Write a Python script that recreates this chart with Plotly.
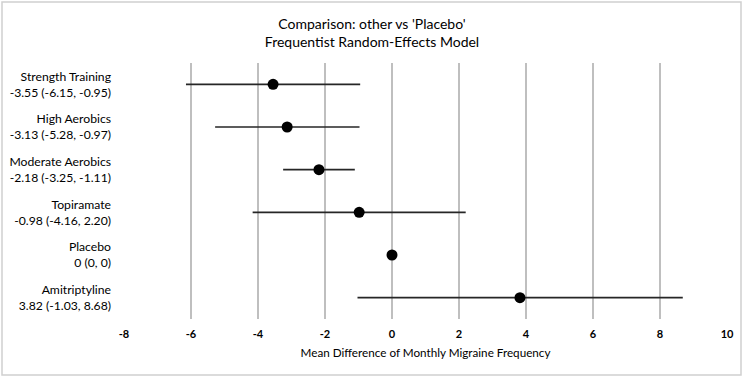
import plotly.graph_objects as go

treatments = ["Strength Training", "High Aerobics", "Moderate Aerobics", "Topiramate", "Placebo", "Amitriptyline"]
estimates = [-3.55, -3.13, -2.18, -0.98, 0.0, 3.82]
lower = [-6.15, -5.28, -3.25, -4.16, 0.0, -1.03]
upper = [-0.95, -0.97, -1.11, 2.20, 0.0, 8.68]
est_text = ["-3.55", "-3.13", "-2.18", "-0.98", "0", "3.82"]
low_text = ["-6.15", "-5.28", "-3.25", "-4.16", "0", "-1.03"]
up_text = ["-0.95", "-0.97", "-1.11", "2.20", "0", "8.68"]
x_ticks = [-8, -6, -4, -2, 0, 2, 4, 6, 8, 10]

labels = [f"{t}<br>{e} ({l}, {u})" for t, e, l, u in zip(treatments, est_text, low_text, up_text)]

W, H = 744, 377
L, R, T, B = 124, 17, 63, 58
pw = W - L - R
ph = H - T - B

fig = go.Figure()
fig.add_trace(go.Scatter(
    x=estimates, y=labels, mode="markers",
    marker=dict(color="black", size=11),
    error_x=dict(type="data", symmetric=False,
                 array=[u - e for u, e in zip(upper, estimates)],
                 arrayminus=[e - l for e, l in zip(estimates, lower)],
                 color="#262626", thickness=1.6, width=0),
    showlegend=False, hoverinfo="skip",
))

fig.update_layout(
    width=W, height=H,
    margin=dict(l=L, r=R, t=T, b=B),
    paper_bgcolor="white", plot_bgcolor="white",
    font=dict(family="Lato", color="black"),
    title=dict(text="Comparison: other vs 'Placebo'<br>Frequentist Random-Effects Model",
               x=372 / W, xanchor="center", xref="container", y=1 - 29 / H, yanchor="middle",
               yref="container", font=dict(size=14, color="black")),
    xaxis=dict(range=[-8, 10], tickvals=x_ticks, ticktext=[str(v) for v in x_ticks],
               showgrid=True, gridcolor="#bfbfbf", gridwidth=1.5,
               zeroline=True, zerolinecolor="#bfbfbf", zerolinewidth=1.5,
               showline=False, ticks="", ticklabelstandoff=7, automargin=False,
               tickfont=dict(size=11, family="Lato", weight="bold"),
               title=dict(text="Mean Difference of Monthly Migraine Frequency",
                          font=dict(size=11.7), standoff=9)),
    yaxis=dict(showgrid=False, zeroline=False, showline=False, automargin=False,
               ticks="", tickfont=dict(size=12.2), ticklabelstandoff=12,
               autorange=False, range=[5.5, -0.5]),
)

# light outer border of the chart
fig.add_shape(type="rect", xref="paper", yref="paper",
              x0=(2 - L) / pw, x1=(W - 3 - L) / pw,
              y0=(H - B - (H - 2)) / ph, y1=(H - B - 2) / ph,
              line=dict(color="#d0d0d0", width=1.5), fillcolor="rgba(0,0,0,0)", layer="below")

fig.write_html("out.html", config={"displayModeBar": False},
               post_script="document.body.style.margin='0px';")
